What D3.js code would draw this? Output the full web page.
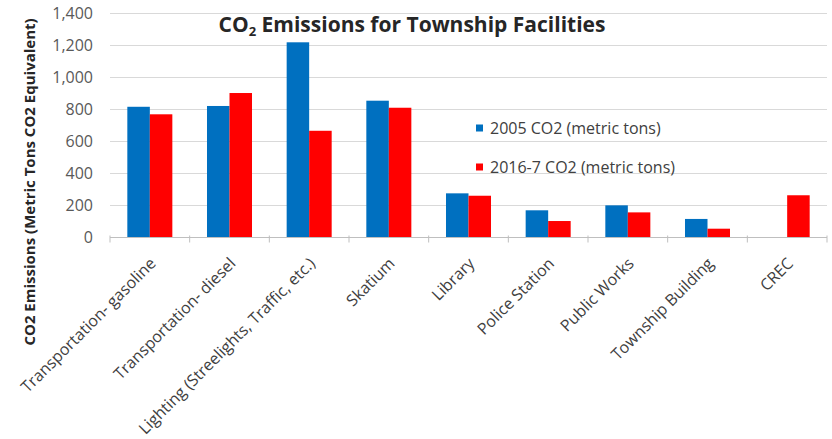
<!DOCTYPE html>
<html>
<head>
<meta charset="utf-8">
<script src="https://cdn.jsdelivr.net/npm/d3@7"></script>
<style>
  body { margin: 0; background: #fff; }
  svg { display: block; font-family: "Open Sans", sans-serif; }
</style>
</head>
<body>
<svg id="chart"></svg>
<script>
var w = 832;
var h = 439;

// data
var categories = ["Transportation- gasoline", "Transportation- diesel",
  "Lighting (Streelights, Traffic, etc.)", "Skatium", "Library",
  "Police Station", "Public Works", "Township Building", "CREC"];
var co2_2005 = [817, 822, 1220, 855, 276, 170, 201, 116, 0];
var co2_2016 = [770, 903, 667, 811, 261, 103, 157, 55, 264];
var seriesNames = ["2005 CO2 (metric tons)", "2016-7 CO2 (metric tons)"];
var seriesColors = ["#0070C0", "#FF0000"];
var yTicks = [0, 200, 400, 600, 800, 1000, 1200, 1400];

var margin = {left: 110, right: 5, top: 13.5, bottom: 201.5};
var plotW = w - margin.left - margin.right;
var plotH = h - margin.top - margin.bottom;

var svg = d3.select('#chart').attr('width', w).attr('height', h);
var g = svg.append('g').attr('transform', 'translate(' + margin.left + ',' + margin.top + ')');

var x = d3.scaleBand().domain(categories).range([0, plotW]).paddingInner(0.435).paddingOuter(0.2175);
var x1 = d3.scaleBand().domain([0, 1]).range([0, x.bandwidth()]);
var y = d3.scaleLinear().domain([0, 1400]).range([plotH, 0]);

// gridlines
g.selectAll('.grid').data(yTicks.slice(1)).enter().append('line')
  .attr('x1', 0).attr('x2', plotW)
  .attr('y1', function (d) { return y(d) }).attr('y2', function (d) { return y(d) })
  .attr('stroke', '#d9d9d9').attr('stroke-width', 1);

// y labels
g.selectAll('.ylab').data(yTicks).enter().append('text')
  .attr('x', -17).attr('y', function (d) { return y(d) })
  .attr('dy', '0.35em').attr('text-anchor', 'end')
  .attr('font-size', 16).attr('fill', '#595959')
  .text(function (d) { return d3.format(',')(d) });

// bars
var rows = categories.map(function (c, i) { return {cat: c, vals: [co2_2005[i], co2_2016[i]]} });
var groups = g.selectAll('.grp').data(rows).enter().append('g')
  .attr('transform', function (d) { return 'translate(' + x(d.cat) + ',0)' });
groups.selectAll('rect').data(function (d) { return d.vals }).enter().append('rect')
  .attr('x', function (d, i) { return x1(i) })
  .attr('width', x1.bandwidth())
  .attr('y', function (d) { return y(d) })
  .attr('height', function (d) { return plotH - y(d) })
  .attr('fill', function (d, i) { return seriesColors[i] });

// x axis line + ticks
g.append('line').attr('x1', 0).attr('x2', plotW).attr('y1', plotH).attr('y2', plotH)
  .attr('stroke', '#bfbfbf').attr('stroke-width', 1);
var step = plotW / categories.length;
g.selectAll('.xt').data(d3.range(categories.length + 1)).enter().append('line')
  .attr('x1', function (d) { return d * step }).attr('x2', function (d) { return d * step })
  .attr('y1', plotH - 2).attr('y2', plotH + 5)
  .attr('stroke', '#bfbfbf').attr('stroke-width', 1);

// category labels
g.selectAll('.xlab').data(categories).enter().append('text')
  .attr('transform', function (d) {
    return 'translate(' + (x(d) + x.bandwidth() / 2 + 7) + ',' + (plotH + 27) + ') rotate(-45)';
  })
  .attr('text-anchor', 'end')
  .attr('font-size', 16).attr('fill', '#404040')
  .text(function (d) { return d });

// y title
svg.append('text')
  .attr('transform', 'translate(35,182) rotate(-90)')
  .attr('text-anchor', 'middle').attr('font-size', 15).attr('font-weight', 'bold')
  .attr('fill', '#262626')
  .text('CO2 Emissions (Metric Tons CO2 Equivalent)');

// title
var title = svg.append('text').attr('x', 412).attr('y', 32)
  .attr('text-anchor', 'middle').attr('font-size', 21).attr('font-weight', 'bold')
  .attr('fill', '#262626');
title.append('tspan').text('CO');
title.append('tspan').attr('dy', 4).attr('font-size', 13).text('2');
title.append('tspan').attr('dy', -4).text(' Emissions for Township Facilities');

// legend
var legend = svg.selectAll('.leg').data(seriesNames).enter().append('g')
  .attr('transform', function (d, i) { return 'translate(476,' + (128 + i * 39) + ')' });
legend.append('rect').attr('x', 0).attr('y', -3.5).attr('width', 7).attr('height', 7)
  .attr('fill', function (d, i) { return seriesColors[i] });
legend.append('text').attr('x', 14).attr('dy', '0.35em')
  .attr('font-size', 16).attr('fill', '#404040')
  .text(function (d) { return d });
</script>
</body>
</html>
